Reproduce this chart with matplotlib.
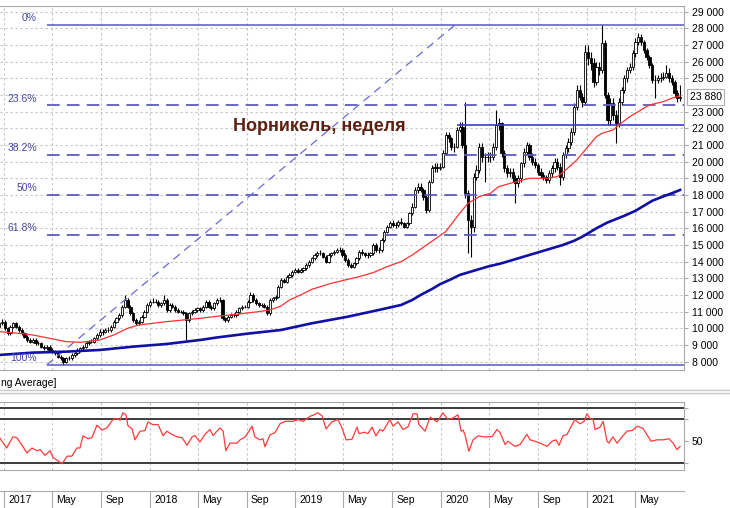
import datetime as dt
import numpy as np
import matplotlib
matplotlib.use("Agg")
import matplotlib.pyplot as plt
import matplotlib.dates as mdates
from matplotlib.lines import Line2D
from matplotlib.ticker import FuncFormatter

plt.rcParams['font.family'] = ['Liberation Sans', 'DejaVu Sans']

# ---------------- data (prices in hundreds of rubles, weekly candles) ----------------
first_week = dt.date(2016, 12, 19)
first_open = 101

close_h = [
    103, 104, 100, 97, 101, 103, 101, 99, 97, 95,
    93, 92, 93, 91, 91, 89, 88, 89, 87, 86,
    85, 83, 82, 80, 82, 82, 84, 85, 87, 88,
    89, 91, 92, 92, 94, 96, 98, 98, 99, 99,
    101, 104, 106, 108, 113, 117, 113, 109, 105, 103,
    104, 107, 110, 114, 116, 116, 116, 114, 115, 117,
    111, 114, 113, 111, 110, 110, 109, 105, 109, 110,
    111, 112, 111, 113, 116, 113, 112, 115, 117, 117,
    106, 105, 107, 108, 108, 110, 112, 113, 113, 116,
    120, 117, 115, 114, 114, 113, 109, 117, 118, 119,
    125, 129, 128, 131, 132, 134, 135, 134, 135, 136,
    138, 140, 142, 144, 145, 145, 143, 140, 144, 145,
    146, 147, 147, 144, 141, 138, 137, 139, 142, 146,
    145, 144, 144, 145, 150, 147, 147, 153, 158, 161,
    163, 162, 162, 164, 163, 161, 163, 169, 173, 183,
    185, 183, 179, 171, 188, 196, 197, 196, 197, 205,
    216, 214, 209, 209, 219, 221, 210, 181, 165, 161,
    191, 195, 209, 203, 203, 203, 203, 209, 222, 223,
    205, 196, 193, 194, 190, 187, 190, 199, 206, 210,
    203, 200, 198, 194, 192, 191, 189, 193, 196, 200,
    197, 191, 204, 208, 212, 218, 233, 243, 239, 236,
    266, 262, 259, 248, 257, 255, 271, 240, 225, 235,
    228, 223, 236, 243, 250, 255, 257, 265, 272, 275,
    272, 267, 263, 258, 249, 249, 250, 250, 251, 253,
    250, 248, 241, 238, 238.8]

high_h = [
    105, 105.5, 105, 101, 102, 104, 104, 102, 100, 98,
    96, 94, 94, 94, 92.5, 92, 90, 90, 90, 88,
    87, 86, 84, 83, 83, 83.5, 85, 86, 88, 89,
    90, 92, 93, 93.5, 95, 97, 99.4, 99.5, 100, 100.5,
    102, 105, 107, 109, 114, 120, 118, 114, 110, 106,
    105, 108, 111, 115, 117, 118, 117.5, 117, 116, 120,
    118, 115, 115, 114, 112, 111, 111, 110, 110, 111,
    112, 113, 113, 114, 117, 117, 114, 116, 118, 119,
    117.5, 107, 108, 109, 109, 111, 113, 114, 114, 117,
    122, 121, 118, 116, 115, 115, 114, 118, 119, 120,
    126, 130, 130, 132, 133, 135, 136, 136, 136, 137,
    139, 141, 143, 145, 146.5, 147, 146, 144, 145, 146,
    147, 148, 148.5, 148, 145, 142, 139, 140, 143, 147,
    147.5, 146, 145.5, 146, 151, 151, 148.5, 154, 159, 162,
    164.5, 165, 164, 165, 166, 164, 164, 170, 175, 185,
    187, 187, 184, 180, 189, 198, 199, 199, 199, 207,
    218, 218, 215, 211, 221, 224, 224, 236, 183, 168,
    193, 198, 211, 211, 205, 206, 206, 211, 231, 226,
    224, 207, 198, 196, 196, 192, 192, 200, 208, 212,
    211, 205, 202, 199, 196, 194, 192, 195, 198, 202,
    202, 199, 206, 210, 214, 220, 235, 246, 246, 241,
    270, 270, 266, 262, 260, 260, 282, 273, 242, 238,
    238, 231, 238, 245, 252, 257, 259, 267, 274, 277,
    276.5, 273, 268, 264, 259, 252, 252, 253, 254, 258,
    256, 252, 249, 243, 246]

low_h = [
    100, 102, 99, 96, 96, 100, 100, 98, 96, 94,
    92, 91, 91, 90, 90, 88, 87, 87, 86, 85,
    84, 82, 81, 78, 79, 81, 81, 83, 84, 86,
    87, 88, 90, 91, 91, 93, 95, 96, 97, 98,
    98, 100, 103, 105, 107, 112, 112, 108, 104, 102,
    102, 103, 106, 109, 113, 115, 115, 113, 113, 114,
    110, 110, 112, 110, 109, 109, 108, 93, 104, 108,
    109, 110, 110, 110, 112, 112, 111, 111, 114, 116,
    105, 104, 104, 106, 107, 107, 109, 111, 112, 112,
    115, 116, 114, 113, 113, 112, 108, 108, 116, 117,
    118, 124, 127, 127, 130, 131, 133, 133, 133, 134,
    135, 137, 139, 141, 143, 144, 142, 139, 139, 143,
    144, 145, 146, 143, 140, 137, 136, 136, 138, 141,
    144, 143, 142, 143, 144, 146, 145, 146, 152, 157,
    160, 161, 160, 161, 162, 160, 160, 162, 168, 172,
    181, 182, 177, 169, 170, 187, 194, 194, 195, 196,
    204, 212, 207, 206, 208, 218, 208, 178, 145, 143,
    158, 189, 193, 200, 188, 200, 200, 201, 207, 219,
    203, 194, 191, 191, 188, 175, 185, 188, 197, 204,
    201, 198, 196, 192, 190, 189, 187, 187, 191, 194,
    195, 186, 189, 202, 206, 210, 216, 231, 237, 233,
    234, 258, 255, 245, 246, 252, 253, 238, 222, 222,
    225, 211, 221, 234, 241, 248, 253, 255, 263, 270,
    270, 265, 261, 256, 247, 238, 247, 248, 249, 250,
    248, 246, 239, 236, 236.5]

# moving averages (week index -> hundreds of rubles)
red_ma_weeks = [0, 7, 12, 18, 24, 29, 36, 41, 46, 50,
                55, 60, 66, 72, 79, 86, 93, 97, 101, 104,
                108, 112, 119, 125, 129, 134, 139, 144, 148, 154,
                160, 165, 168, 172, 176, 179, 184, 190, 196, 200,
                203, 207, 211, 214, 216, 220, 222, 226, 230, 233,
                238, 241, 244]
red_ma_vals = [98, 97, 96, 94, 92, 91.6, 93, 96, 100, 102,
               103, 104, 105, 106, 107.4, 108.6, 110, 111, 113.4, 117,
               120, 123.4, 127, 129.4, 131, 133.4, 137, 140, 144, 151,
               158, 169, 175, 179, 181, 185, 187.4, 190, 190, 191,
               195, 201, 209, 215, 217, 219, 222, 227, 231, 234,
               236, 238, 239.5]
blue_ma_weeks = [0, 12, 24, 36, 48, 60, 66, 72, 78, 89,
                 101, 112, 125, 136, 144, 148, 151, 155, 158, 162,
                 165, 169, 172, 175, 180, 184, 189, 194, 198, 202,
                 206, 209, 211, 214, 218, 221, 224, 228, 231, 234,
                 237, 241, 244]
blue_ma_vals = [84, 85.4, 86, 87, 89, 90.6, 91.8, 93, 94.5, 96.8,
                99, 103, 107, 111, 114, 117, 120, 123.5, 126.5, 129.5,
                132, 134, 135.5, 137, 139, 141, 143.5, 146, 148, 150,
                152.5, 155, 157, 160, 163.5, 165.5, 167.5, 170.5, 173.5, 176.5,
                178.5, 181, 183]

# oscillator (lower panel)
rsi_weeks = [0, 2.6, 4.9, 6.3, 8.5, 9.9, 11.7, 13.5, 14.6, 16.4,
             18.2, 19.2, 22.5, 24.3, 26, 27.8, 28.9, 30, 31.8, 33.2,
             35, 36.8, 38.6, 40.7, 42.5, 43.3, 44.3, 45.4, 46.1, 47.6,
             48.6, 50.4, 52.2, 53.3, 55, 56.9, 58.7, 60.1, 61.9, 63.7,
             65.5, 67.3, 69.1, 70.1, 71.9, 73.7, 75.5, 76.6, 79.1, 80.2,
             81.2, 82.7, 85.2, 86.3, 88.1, 90.6, 91.6, 93.4, 94.5, 95.2,
             97, 98.8, 100.6, 102.4, 105.3, 107.1, 108.9, 111.4, 112.4, 114.2,
             115.7, 117.1, 119.2, 121.4, 122.8, 124.3, 126.4, 128.2, 128.9, 131,
             132.1, 133.6, 135, 136.4, 137.5, 140, 141.1, 142.9, 144.7, 146.5,
             148.3, 149.7, 150.4, 152.6, 154.4, 155.4, 156.9, 159, 160.8, 162.6,
             164.4, 165.5, 166.2, 166.9, 168.3, 169.8, 171.6, 174.1, 176.6, 178.4,
             179.5, 181.3, 182.3, 184.8, 186.6, 189.1, 190.2, 192, 193.8, 196.3,
             198.1, 199.5, 200.6, 202, 203.5, 205.3, 206.3, 208.1, 209.6, 210.6,
             211.7, 212.8, 213.5, 215.3, 216.4, 217.8, 218.5, 219.9, 221.4, 223.2,
             225, 226.8, 228.6, 230.7, 233.6, 235.7, 237.9, 240, 241.5, 242.9,
             244]
rsi_vals = [53.4, 43.5, 53.7, 53, 44.6, 39, 43.5, 41, 42, 36.8,
            41, 35, 29, 36, 36, 43.5, 43.5, 54.6, 52, 53,
            64.5, 60, 62, 69.6, 70.5, 69, 75.8, 74, 64, 61,
            51, 58.8, 59.5, 67.5, 65, 65, 54.8, 58.9, 56, 53.7,
            53, 46, 53.7, 55, 49, 56, 60.5, 55, 62, 59,
            41, 48, 48, 51, 53.6, 63.5, 53.6, 51, 52, 44.6,
            55.5, 57.6, 65.7, 68, 68, 69.6, 68, 72.7, 73.5, 75.8,
            73, 61, 67.5, 69.6, 62, 51, 51.5, 62.6, 56.7, 58,
            56.7, 62.6, 54.6, 60.5, 59, 69.6, 63.5, 67.5, 60.5, 63,
            74.9, 74.9, 65, 59, 71.8, 70, 67.5, 75.8, 69.6, 71,
            74, 59, 60, 55.6, 40.5, 51, 54.6, 53.6, 54, 60.5,
            57.6, 46.6, 49.7, 45, 46.6, 56, 51, 49.7, 48, 45,
            49.7, 51, 46, 54.6, 56, 65, 69.6, 65.7, 68, 74.9,
            70.5, 70, 60.5, 62.6, 68, 49.7, 48, 53.7, 48, 53.7,
            59, 59.5, 63.5, 61.5, 49.7, 51, 51, 52, 48, 42,
            45]
rsi_levels = [80, 70, 30]

# Fibonacci retracement and drawn lines
fib_high, fib_low = 28200, 7800
fib_ratios = [0.0, 0.236, 0.382, 0.5, 0.618, 1.0]
fib_labels = ['0%', '23.6%', '38.2%', '50%', '61.8%', '100%']
fib_start_week = 17
support_level, support_start_week = 22200, 164
trend_weeks, trend_vals = [17, 163.3], [7800, 28200]
last_price = 23880

tick_dates = [dt.date(2017, 1, 1), dt.date(2017, 5, 1), dt.date(2017, 9, 1),
              dt.date(2018, 1, 1), dt.date(2018, 5, 1), dt.date(2018, 9, 1),
              dt.date(2019, 1, 1), dt.date(2019, 5, 1), dt.date(2019, 9, 1),
              dt.date(2020, 1, 1), dt.date(2020, 5, 1), dt.date(2020, 9, 1),
              dt.date(2021, 1, 1), dt.date(2021, 5, 1)]
tick_labels = ['2017', 'May', 'Sep', '2018', 'May', 'Sep', '2019', 'May', 'Sep',
               '2020', 'May', 'Sep', '2021', 'May']
price_ticks = [v for v in range(8000, 29001, 1000) if v != 24000]
title = 'Норникель, неделя'
indicator_caption = 'ng Average]'

assert len(close_h) == len(high_h) == len(low_h) == 245
assert len(rsi_weeks) == len(rsi_vals)
assert len(blue_ma_weeks) == len(blue_ma_vals)
assert len(red_ma_weeks) == len(red_ma_vals)

# ---------------- figure ----------------
W, H = 730, 508
fig = plt.figure(figsize=(W / 100, H / 100), dpi=100)
fig.patch.set_facecolor('white')


def box(x0, y0, x1, y1):
    return [x0 / W, 1 - y1 / H, (x1 - x0) / W, (y1 - y0) / H]


ax = fig.add_axes(box(0, 6, 684, 370))
ax_rsi = fig.add_axes(box(0, 401.5, 684, 470))
ax_dt = fig.add_axes(box(0, 491, 684, 508))

x0 = mdates.date2num(first_week)
def wk(w):
    return x0 + 7 * np.asarray(w, dtype=float)

xlim = (wk(0.25), wk(245.4))
frame = '#a9a9a9'
grid_c = '#c2c2c2'
grid_ls = (0, (2, 2.5))

c = np.array(close_h) * 100
hi = np.array(high_h) * 100
lo = np.array(low_h) * 100
o = np.r_[first_open * 100, c[:-1]]
xs = wk(np.arange(len(c)))
up = c >= o

# grid
for v in range(8000, 29001, 1000):
    ax.axhline(v, color=grid_c, lw=0.8, ls=grid_ls, zorder=0)
for d in tick_dates:
    for a in (ax, ax_rsi):
        a.axvline(mdates.date2num(d), color=grid_c, lw=0.8, ls=grid_ls, zorder=0)

# candles
ax.vlines(xs, lo, hi, color='black', lw=0.8, zorder=2)
ax.bar(xs[up], np.maximum(c - o, 1)[up], bottom=o[up], width=5.6,
       color='white', edgecolor='black', lw=0.6, zorder=3)
ax.bar(xs[~up], (o - c)[~up], bottom=c[~up], width=5.6,
       color='black', edgecolor='black', lw=0.6, zorder=3)

# fibonacci levels
for r, lab in zip(fib_ratios, fib_labels):
    lvl = fib_high - r * (fib_high - fib_low)
    if r in (0.0, 1.0):
        ax.hlines(lvl, wk(fib_start_week), xlim[1], color='#5656c4', lw=1.1, zorder=4)
    else:
        ax.hlines(lvl, wk(fib_start_week), xlim[1], color='#5c5cc0', lw=1.3,
                  linestyles=[(0, (7, 4))], zorder=4)
    ax.annotate(lab, xy=(37 / 684, lvl), xycoords=('axes fraction', 'data'),
                xytext=(0, 1.2), textcoords='offset points', ha='right', va='bottom',
                fontsize=7.5, color='#4646a8', zorder=6)

ax.hlines(support_level, wk(support_start_week), xlim[1], color='#3a3ade', lw=1.2, zorder=4)
ax.plot(wk(trend_weeks), trend_vals, color='#6a6ad4', lw=0.9, ls=(0, (6.5, 4.5)), zorder=4)

# moving averages
ax.plot(wk(red_ma_weeks), np.array(red_ma_vals) * 100, color='#ff3030', lw=0.9, zorder=5)
ax.plot(wk(blue_ma_weeks), np.array(blue_ma_vals) * 100, color='#1010a6', lw=1.9,
        solid_joinstyle='round', zorder=5)

ax.text(319 / 684, 0.668, title, transform=ax.transAxes, ha='center', va='center',
        fontsize=13, fontweight='bold', color='#5c1f10', zorder=7)

ax.set_xlim(*xlim)
ax.set_ylim(7498, 29338)
ax.set_xticks([])
ax.yaxis.tick_right()
ax.set_yticks(price_ticks)
ax.yaxis.set_major_formatter(FuncFormatter(lambda v, p: f"{v:,.0f}".replace(',', ' ')))
ax.tick_params(axis='y', length=3, color=frame, labelsize=7.5, pad=2.5)
ax.annotate(f"{last_price:,}".replace(',', ' '), xy=(1, last_price),
            xycoords=('axes fraction', 'data'), xytext=(4.2, 0), textcoords='offset points',
            ha='left', va='center', fontsize=7.5, annotation_clip=False,
            bbox=dict(boxstyle='square,pad=0.25', fc='white', ec='#b0b0b0', lw=0.8))
ax.spines['left'].set_visible(False)
for s in ('top', 'bottom', 'right'):
    ax.spines[s].set_color(frame)

# oscillator panel
ax_rsi.plot(wk(rsi_weeks), rsi_vals, color='#ff3a3a', lw=0.9, zorder=3)
for lv in rsi_levels:
    ax_rsi.axhline(lv, color='#3c3c3c', lw=1.4, zorder=2)
ax_rsi.set_xlim(*xlim)
ax_rsi.set_ylim(23.3, 86.2)
ax_rsi.set_xticks([])
ax_rsi.yaxis.tick_right()
ax_rsi.set_yticks([30, 50, 70, 80])
ax_rsi.set_yticklabels(['', '50', '', ''])
ax_rsi.tick_params(axis='y', length=3, color=frame, labelsize=7.5, pad=2.5)
ax_rsi.spines['left'].set_visible(False)
for s in ('top', 'bottom', 'right'):
    ax_rsi.spines[s].set_color(frame)

# date strip
ax_dt.set_xlim(*xlim)
ax_dt.set_ylim(0, 1)
ax_dt.set_xticks([])
ax_dt.set_yticks([])
for s in ('left', 'right', 'bottom'):
    ax_dt.spines[s].set_visible(False)
ax_dt.spines['top'].set_color(frame)
for d, lab in zip(tick_dates, tick_labels):
    xd = mdates.date2num(d)
    ax_dt.axvline(xd, color=frame, lw=0.8)
    ax_dt.annotate(lab, xy=(xd, 0.45), xycoords=('data', 'axes fraction'),
                   xytext=(3, 0), textcoords='offset points', ha='left', va='center',
                   fontsize=7.5)

# separators and caption between panels
for yy in (390, 393.3):
    fig.add_artist(Line2D([0, 1], [1 - yy / H] * 2, color='#c8c8c8', lw=1.0))
fig.text(1 / W, 1 - 383 / H, indicator_caption, fontsize=7.5, ha='left', va='center')

fig.savefig('out.png', dpi=100)
